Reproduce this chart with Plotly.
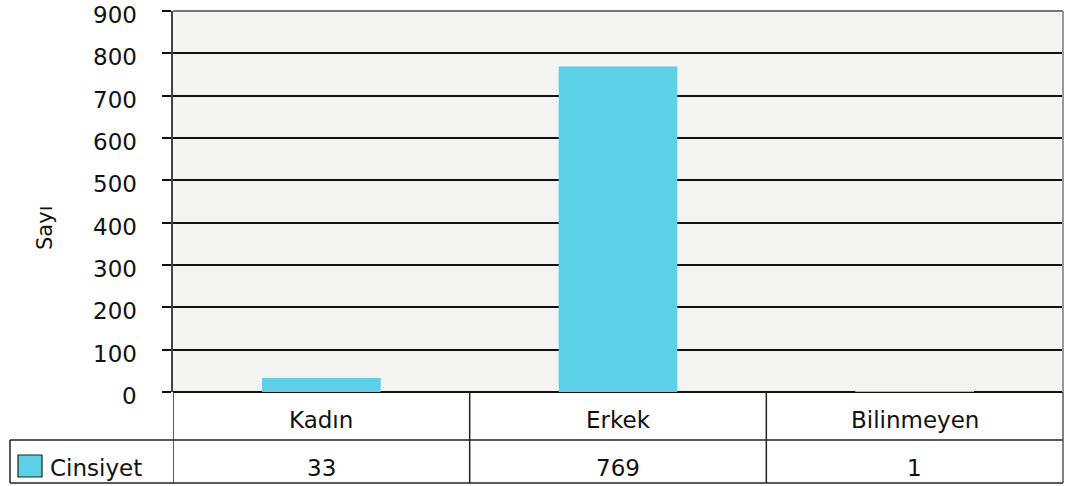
import plotly.graph_objects as go

categories = ["Kadın", "Erkek", "Bilinmeyen"]
values = [33, 769, 1]
series_name = "Cinsiyet"
y_ticks = [0, 100, 200, 300, 400, 500, 600, 700, 800, 900]

BAR = "#5bd0e6"
FONT = "DejaVu Sans"

fig = go.Figure()
fig.add_trace(go.Bar(x=categories, y=values, marker=dict(color=BAR, line=dict(width=0)),
                     name=series_name, showlegend=False))

W, H = 1065, 486
ml, mr, mt, mb = 173, 2, 11, 94
pw, ph = W - ml - mr, H - mt - mb

def px_x(p):
    return (p - ml) / pw

def px_y(p):
    return (H - mb - p) / ph

shapes = []
line = dict(color="#222222", width=1.5)
for yy in [440, 483]:
    shapes.append(dict(type="line", xref="paper", yref="paper", x0=px_x(10), x1=1,
                       y0=px_y(yy), y1=px_y(yy), line=line))
shapes.append(dict(type="line", xref="paper", yref="paper", x0=px_x(10), x1=px_x(10),
                   y0=px_y(440), y1=px_y(483), line=line))
for xv in [-0.5, 0.5, 1.5]:
    shapes.append(dict(type="line", xref="x", yref="paper", x0=xv, x1=xv,
                       y0=0, y1=px_y(483), line=line))
shapes.append(dict(type="line", xref="paper", yref="paper", x0=1, x1=1,
                   y0=0, y1=px_y(483), line=dict(color="#555555", width=1.5)))
shapes.append(dict(type="line", xref="paper", yref="paper", x0=0, x1=1, y0=1, y1=1,
                   line=dict(color="#777777", width=2)))
shapes.append(dict(type="line", xref="paper", yref="paper", x0=1, x1=1, y0=0, y1=1,
                   line=dict(color="#999999", width=2)))
shapes.append(dict(type="rect", xref="paper", yref="paper", x0=px_x(18), x1=px_x(42),
                   y0=px_y(477), y1=px_y(455), fillcolor=BAR, line=dict(color="#222222", width=1.2)))

annotations = []
tf = dict(family=FONT, size=23, color="#111111")
for c, v in zip(categories, values):
    annotations.append(dict(x=c, xref="x", y=px_y(420), yref="paper", text=c, showarrow=False,
                            xanchor="center", yanchor="middle", font=tf))
    annotations.append(dict(x=c, xref="x", y=px_y(468), yref="paper", text=str(v), showarrow=False,
                            xanchor="center", yanchor="middle", font=tf))
annotations.append(dict(x=px_x(48), xref="paper", y=px_y(468), yref="paper", text=series_name,
                        showarrow=False, xanchor="left", yanchor="middle", font=tf))
annotations.append(dict(x=px_x(45), xref="paper", y=px_y(228), yref="paper", text="Sayı",
                        showarrow=False, textangle=-90, xanchor="center", yanchor="middle",
                        font=dict(family=FONT, size=21, color="#111111")))
# y tick labels, placed on the y scale (slightly below their gridline as in the original)
for t in y_ticks:
    annotations.append(dict(x=px_x(139), xref="paper", y=t, yref="y", text=str(t),
                            showarrow=False, xanchor="right", yanchor="middle", yshift=-4,
                            font=tf))

fig.update_layout(
    width=W, height=H,
    margin=dict(l=ml, r=mr, t=mt, b=mb, pad=0, autoexpand=False),
    paper_bgcolor="white",
    plot_bgcolor="#f4f4f2",
    bargap=0.6,
    showlegend=False,
    shapes=shapes,
    annotations=annotations,
    font=dict(family=FONT, size=22, color="#111111"),
)
fig.update_xaxes(showticklabels=False, ticks="", showgrid=False, zeroline=False,
                 showline=False, range=[-0.5, 2.5], automargin=False)
fig.update_yaxes(range=[0, 900], tickvals=y_ticks, showticklabels=False,
                 showgrid=True, gridcolor="#111111",
                 gridwidth=1.5, zeroline=True, zerolinecolor="#111111", zerolinewidth=2,
                 showline=True, linecolor="#444444", linewidth=1.5,
                 ticks="outside", ticklen=9, tickcolor="#111111", tickwidth=1.5,
                 automargin=False)

fig.write_html("out.html", config={"displayModeBar": False},
               post_script="document.body.style.margin='0';document.body.style.overflow='hidden';")
